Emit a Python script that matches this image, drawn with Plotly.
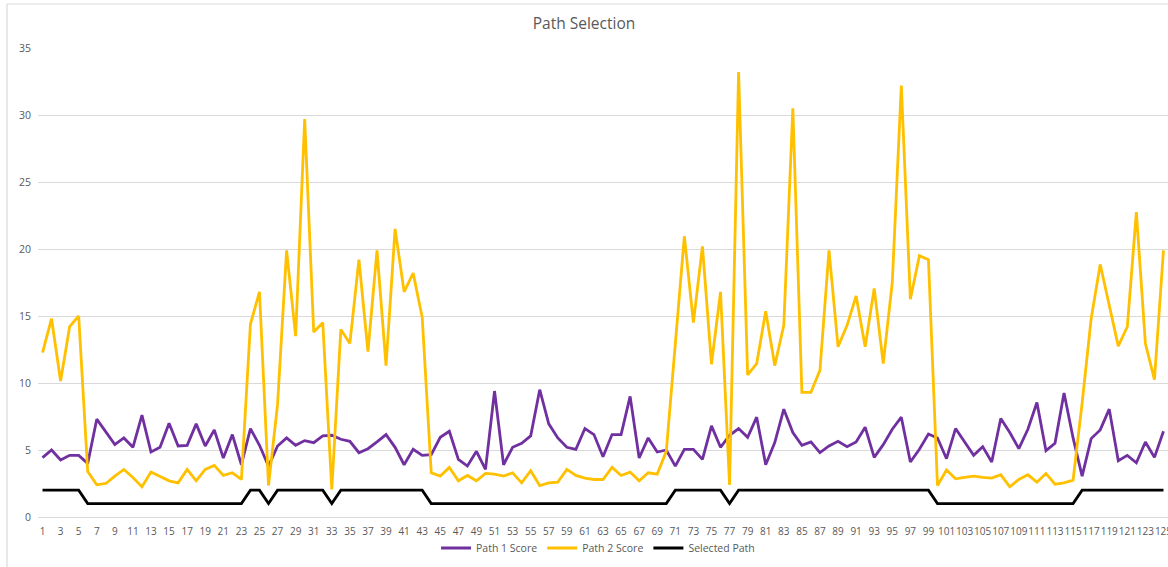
import plotly.graph_objects as go

# Sample index (category axis)
samples = list(range(1, 126))

path1_score = [
    4.43, 5.0, 4.25, 4.6, 4.6, 4.0, 7.3, 6.3, 5.4, 5.9,
    5.2, 7.6, 4.85, 5.2, 7.0, 5.3, 5.35, 6.95, 5.3, 6.5,
    4.4, 6.15, 3.9, 6.6, 5.35, 3.8, 5.3, 5.9, 5.35, 5.7,
    5.55, 6.05, 6.1, 5.8, 5.65, 4.8, 5.1, 5.6, 6.15, 5.2,
    3.9, 5.05, 4.6, 4.65, 5.95, 6.4, 4.3, 3.8, 4.9, 3.55,
    9.4, 3.9, 5.2, 5.5, 6.05, 9.5, 6.95, 5.9, 5.2, 5.05,
    6.6, 6.15, 4.5, 6.15, 6.15, 9.0, 4.4, 5.9, 4.85, 5.0,
    3.8, 5.05, 5.05, 4.3, 6.8, 5.2, 6.1, 6.6, 5.95, 7.45,
    3.9, 5.55, 8.05, 6.3, 5.35, 5.6, 4.8, 5.3, 5.65, 5.25,
    5.6, 6.7, 4.45, 5.4, 6.55, 7.45, 4.1, 5.05, 6.2, 5.9,
    4.35, 6.6, 5.6, 4.6, 5.25, 4.1, 7.35, 6.3, 5.1, 6.55,
    8.55, 4.95, 5.5, 9.25, 5.9, 3.05, 5.85, 6.5, 8.05, 4.2,
    4.6, 4.05, 5.6, 4.45, 6.4,
]

path2_score = [
    12.26, 14.8, 10.15, 14.2, 15.0, 3.4, 2.4, 2.5, 3.05, 3.55,
    2.95, 2.25, 3.35, 3.05, 2.7, 2.55, 3.55, 2.7, 3.55, 3.85,
    3.1, 3.3, 2.8, 14.4, 16.8, 2.35, 8.4, 19.9, 13.5, 29.7,
    13.8, 14.5, 2.05, 14.0, 12.95, 19.2, 12.35, 19.9, 11.3, 21.5,
    16.8, 18.2, 14.9, 3.3, 3.05, 3.7, 2.7, 3.1, 2.7, 3.25,
    3.2, 3.05, 3.3, 2.55, 3.45, 2.35, 2.55, 2.6, 3.55, 3.1,
    2.9, 2.8, 2.8, 3.7, 3.1, 3.35, 2.7, 3.3, 3.2, 4.9,
    13.0, 20.95, 14.5, 20.2, 11.4, 16.8, 2.4, 33.2, 10.6, 11.45,
    15.35, 11.3, 14.3, 30.5, 9.3, 9.3, 10.95, 19.9, 12.7, 14.3,
    16.5, 12.7, 17.05, 11.45, 17.5, 32.2, 16.25, 19.5, 19.2, 2.35,
    3.5, 2.85, 2.95, 3.05, 2.95, 2.9, 3.15, 2.25, 2.8, 3.15,
    2.6, 3.25, 2.45, 2.55, 2.75, 8.5, 14.8, 18.85, 15.8, 12.75,
    14.2, 22.75, 12.95, 10.25, 19.9,
]

selected_path = [
    2, 2, 2, 2, 2, 1, 1, 1, 1, 1,
    1, 1, 1, 1, 1, 1, 1, 1, 1, 1,
    1, 1, 1, 2, 2, 1, 2, 2, 2, 2,
    2, 2, 1, 2, 2, 2, 2, 2, 2, 2,
    2, 2, 2, 1, 1, 1, 1, 1, 1, 1,
    1, 1, 1, 1, 1, 1, 1, 1, 1, 1,
    1, 1, 1, 1, 1, 1, 1, 1, 1, 1,
    2, 2, 2, 2, 2, 2, 1, 2, 2, 2,
    2, 2, 2, 2, 2, 2, 2, 2, 2, 2,
    2, 2, 2, 2, 2, 2, 2, 2, 2, 1,
    1, 1, 1, 1, 1, 1, 1, 1, 1, 1,
    1, 1, 1, 1, 1, 2, 2, 2, 2, 2,
    2, 2, 2, 2, 2,
]

x_tick_values = list(range(1, 126, 2))
y_tick_values = [0, 5, 10, 15, 20, 25, 30, 35]

TEXT = "#595959"
GRID = "#d9d9d9"
FONT = "Open Sans, Lato, sans-serif"

fig = go.Figure()
fig.add_trace(go.Scatter(x=samples, y=path1_score, mode="lines", name="Path 1 Score",
                         line=dict(color="#7030A0", width=2.8)))
fig.add_trace(go.Scatter(x=samples, y=path2_score, mode="lines", name="Path 2 Score",
                         line=dict(color="#FFC000", width=2.8)))
fig.add_trace(go.Scatter(x=samples, y=selected_path, mode="lines", name="Selected Path",
                         line=dict(color="#000000", width=2.8)))

fig.update_layout(
    width=1168, height=567,
    margin=dict(l=38, r=0, t=48, b=50, autoexpand=False),
    paper_bgcolor="white", plot_bgcolor="white",
    font=dict(family=FONT, color=TEXT, size=10),
    title=dict(text="Path Selection", x=0.5, xref="container", xanchor="center",
               y=1 - 24 / 567, yref="container", yanchor="middle",
               font=dict(size=15.5, color=TEXT, family=FONT)),
    showlegend=True,
    legend=dict(orientation="h", x=0.4956, xanchor="center",
                y=1 - 548 / 567, yref="container", yanchor="middle",
                font=dict(size=10.5, color=TEXT), itemwidth=30,
                bgcolor="rgba(0,0,0,0)"),
    xaxis=dict(range=[0.5, 125.5], tickmode="array", tickvals=x_tick_values,
               ticktext=[str(v) for v in x_tick_values], tickangle=0,
               showgrid=False, zeroline=False, showline=True, linecolor=GRID,
               linewidth=1, ticks="", ticklabelstandoff=5,
               ticklabeloverflow="allow", automargin=False,
               tickfont=dict(size=10, color=TEXT), fixedrange=True),
    yaxis=dict(range=[0, 35], tickmode="array", tickvals=y_tick_values,
               showgrid=True, gridcolor=GRID, gridwidth=1, zeroline=False,
               showline=False, ticks="", ticklabelstandoff=6, automargin=False,
               tickfont=dict(size=10.5, color=TEXT), fixedrange=True),
    shapes=[
        # outer chart frame (left and top edges)
        dict(type="line", xref="paper", yref="paper",
             x0=(7 - 38) / 1130, x1=(7 - 38) / 1130, y0=-0.2, y1=(517 - 4) / 469,
             line=dict(color=GRID, width=1.2)),
        dict(type="line", xref="paper", yref="paper",
             x0=(7 - 38) / 1130, x1=1.01, y0=(517 - 4) / 469, y1=(517 - 4) / 469,
             line=dict(color=GRID, width=1.2)),
    ],
)

fig.write_html("out.html")
